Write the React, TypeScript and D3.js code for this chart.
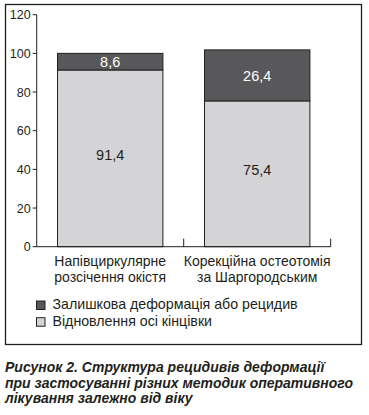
import React from "react";
import * as d3 from "d3";

// categories (each split into two lines as printed)
const categories: string[][] = [
    ["Напівциркулярне", "розсічення окістя"],
    ["Корекційна остеотомія", "за Шаргородським"],
];
const recovery: number[] = [91.4, 75.4];   // Відновлення осі кінцівки
const residual: number[] = [8.6, 26.4];    // Залишкова деформація або рецидив
const yTicks: number[] = [0, 20, 40, 60, 80, 100, 120];
const seriesNames: string[] = ["Залишкова деформація або рецидив", "Відновлення осі кінцівки"];
const captionLines: string[] = [
    "Рисунок 2. Структура рецидивів деформації",
    "при застосуванні різних методик оперативного",
    "лікування залежно від віку",
];

const W = 369;
const H = 415;
const FONT = "'Liberation Sans', Arial, sans-serif";
const INK = "#231f20";
const DARK = "#58585a";
const LIGHT = "#d4d4d6";

const plot = { left: 36.7, right: 330.7, top: 14.7, bottom: 246.7 };

const fmt = (v: number) => v.toFixed(1).replace(".", ",");

export default function App() {
    const keys = ["recovery", "residual"] as const;
    const rows = categories.map((_, i) => ({ idx: i, recovery: recovery[i]!, residual: residual[i]! }));
    const stacked = d3.stack<any>().keys(keys as any)(rows);

    const y = d3.scaleLinear().domain([0, 120]).range([plot.bottom, plot.top]);
    const x = d3.scaleBand<number>()
        .domain(categories.map((_, i) => i))
        .range([plot.left, plot.right])
        .paddingInner(0.283)
        .paddingOuter(0.1415);
    const step = x.step();

    const fills: Record<string, string> = { recovery: LIGHT, residual: DARK };
    const labelFill: Record<string, string> = { recovery: INK, residual: "#ffffff" };
    const labelShift: Record<string, number> = { recovery: -4, residual: 0 };

    return (
        <svg width={W} height={H} style={{ position: "absolute", left: 0, top: 0, display: "block", background: "#fff" }}
            fontFamily={FONT}>
            {/* frame */}
            <rect x={5.5} y={4.5} width={356} height={340} fill="none" stroke={INK} strokeWidth={1.3} />

            {/* y axis */}
            <line x1={plot.left} x2={plot.left} y1={y(120)} y2={y(0)} stroke={INK} strokeWidth={1} />
            {yTicks.map(t => (
                <g key={t}>
                    <line x1={plot.left - 4} x2={plot.left} y1={y(t)} y2={y(t)} stroke={INK} strokeWidth={1} />
                    <text x={plot.left - 6} y={y(t)} dy="0.36em" textAnchor="end" fontSize={12.5} fill={INK}>{t}</text>
                </g>
            ))}

            {/* bars */}
            {stacked.map(s => (
                <g key={s.key}>
                    {s.map((d, i) => (
                        <g key={i}>
                            <rect x={x(i)!} y={y(d[1])} width={x.bandwidth()} height={y(d[0]) - y(d[1])}
                                fill={fills[s.key]} stroke={INK} strokeWidth={1} />
                            <text x={x(i)! + x.bandwidth() / 2} y={(y(d[0]) + y(d[1])) / 2 + labelShift[s.key]!}
                                dy="0.36em" textAnchor="middle" fontSize={14.5} fill={labelFill[s.key]}>
                                {fmt(d[1] - d[0])}
                            </text>
                        </g>
                    ))}
                </g>
            ))}

            {/* x axis */}
            <line x1={plot.left} x2={plot.right} y1={plot.bottom} y2={plot.bottom} stroke={INK} strokeWidth={1} />
            {categories.map((_, i) => (
                <line key={i} x1={plot.left + step * (i + 1)} x2={plot.left + step * (i + 1)}
                    y1={plot.bottom} y2={plot.bottom - 8} stroke={INK} strokeWidth={1} />
            ))}
            {categories.map((lines, i) => (
                <text key={i} x={x(i)! + x.bandwidth() / 2} y={266} textAnchor="middle" fontSize={14} fill={INK}>
                    {lines.map((l, j) => <tspan key={j} x={x(i)! + x.bandwidth() / 2} dy={j === 0 ? 0 : 16}>{l}</tspan>)}
                </text>
            ))}

            {/* legend */}
            {seriesNames.map((name, i) => (
                <g key={name} transform={`translate(36.5,${301 + i * 16.7})`}>
                    <rect x={0} y={0} width={8.5} height={8.5} fill={i === 0 ? DARK : LIGHT} stroke={INK} strokeWidth={1} />
                    <text x={16} y={8.3} fontSize={14.2} fill={INK}>{name}</text>
                </g>
            ))}

            {/* caption */}
            {captionLines.map((l, i) => (
                <text key={i} x={5} y={371.7 + i * 15.8} fontSize={14} fontWeight="bold" fontStyle="italic" fill={INK}>{l}</text>
            ))}
        </svg>
    );
}
